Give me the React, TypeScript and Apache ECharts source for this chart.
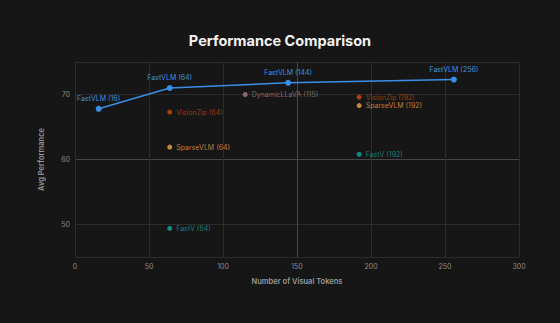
import React, { useEffect, useRef } from "react";
import * as echarts from "echarts";

const xTicks = [0, 50, 100, 150, 200, 250, 300];
const yLabelValues = [50, 60, 70];

const fastVLMTokens = [16, 64, 144, 256];
const fastVLMScores = [67.8, 71.0, 71.8, 72.3];

const visionZipTokens = [64, 192];
const visionZipScores = [67.3, 69.6];

const sparseVLMTokens = [64, 192];
const sparseVLMScores = [61.9, 68.3];

const fastVTokens = [64, 192];
const fastVScores = [49.4, 60.8];

const dynamicTokens = [115];
const dynamicScores = [70.0];

const FONT = "Inter, 'Noto Sans', sans-serif";

function pairs(xs: number[], ys: number[]) {
  return xs.map((x, i) => [x, ys[i]]);
}

function scatter(name: string, xs: number[], ys: number[], color: string, labelColor: string) {
  return {
    name,
    type: "scatter",
    data: pairs(xs, ys),
    symbolSize: 5,
    itemStyle: { color },
    label: {
      show: true,
      position: "right",
      distance: 4,
      color: labelColor,
      fontSize: 7,
      fontFamily: FONT,
      formatter: (p: any) => `${name} (${p.value[0]})`,
    },
    z: 3,
  };
}

export default function App() {
  const ref = useRef<HTMLDivElement>(null);

  useEffect(() => {
    document.body.style.margin = "0";
    const chart = echarts.init(ref.current!, undefined, { renderer: "svg" });
    const grid = "#2c2c2c";
    const bright = "#474747";
    chart.setOption({
      animation: false,
      backgroundColor: "#161616",
      title: {
        text: "Performance Comparison",
        left: "center",
        top: 28,
        textStyle: { color: "#f2f2f2", fontSize: 14.5, fontWeight: "bold", fontFamily: FONT },
      },
      grid: { left: 75, right: 41, top: 62, bottom: 66 },
      xAxis: {
        type: "value",
        min: xTicks[0],
        max: xTicks[xTicks.length - 1],
        interval: 50,
        name: "Number of Visual Tokens",
        nameLocation: "middle",
        nameGap: 20,
        nameTextStyle: { color: "#9a9a9a", fontSize: 7.5, fontWeight: 600, fontFamily: FONT },
        axisLine: { show: false },
        axisTick: { show: false },
        axisLabel: { color: "#8a8a8a", fontSize: 7, fontFamily: FONT, margin: 6 },
        splitLine: {
          show: true,
          lineStyle: { color: [grid, grid, grid, bright, grid, grid, grid], width: 1 },
        },
      },
      yAxis: {
        type: "value",
        min: 45,
        max: 75,
        interval: 5,
        name: "Avg Performance",
        nameLocation: "middle",
        nameGap: 30,
        nameTextStyle: { color: "#9a9a9a", fontSize: 7.5, fontWeight: 600, fontFamily: FONT },
        axisLine: { show: false },
        axisTick: { show: false },
        axisLabel: {
          color: "#8a8a8a",
          fontSize: 7,
          fontFamily: FONT,
          margin: 5,
          formatter: (v: number) => (yLabelValues.includes(v) ? String(v) : ""),
        },
        splitLine: {
          show: true,
          lineStyle: {
            color: [grid, grid, "rgba(0,0,0,0)", bright, "rgba(0,0,0,0)", grid, grid],
            width: 1,
          },
        },
      },
      series: [
        {
          name: "FastVLM",
          type: "line",
          data: pairs(fastVLMTokens, fastVLMScores),
          symbol: "circle",
          symbolSize: 6,
          lineStyle: { color: "#3a8ee6", width: 1.5 },
          itemStyle: { color: "#3a8ee6" },
          label: {
            show: true,
            position: "top",
            distance: 4,
            color: "#3f8fe0",
            fontSize: 7,
            fontFamily: FONT,
            formatter: (p: any) => `FastVLM (${p.value[0]})`,
          },
          z: 4,
        },
        scatter("VisionZip", visionZipTokens, visionZipScores, "#d4470e", "#c0430f"),
        scatter("SparseVLM", sparseVLMTokens, sparseVLMScores, "#f5a545", "#e89a45"),
        scatter("FastV", fastVTokens, fastVScores, "#17a79c", "#19998f"),
        scatter("DynamicLLaVA", dynamicTokens, dynamicScores, "#a47c74", "#968078"),
      ],
    });
    return () => chart.dispose();
  }, []);

  return <div ref={ref} style={{ width: 560, height: 323 }} />;
}
